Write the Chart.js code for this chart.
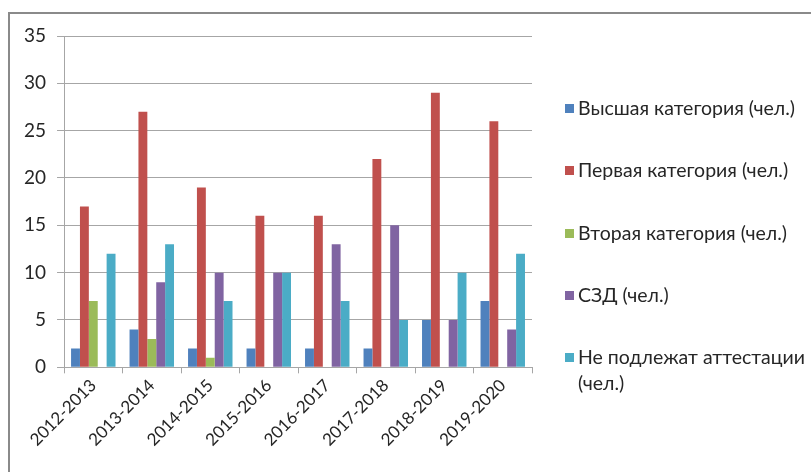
<!DOCTYPE html>
<html>
<head>
<meta charset="utf-8">
<script src="https://cdn.jsdelivr.net/npm/chart.js@4"></script>
<style>
  body { margin: 0; background: #fff; font-family: Lato, "Open Sans", sans-serif; }
  #wrap { position: relative; width: 811px; height: 472px; overflow: hidden; }
  #frame { position: absolute; left: 8px; top: 12px; width: 900px; height: 600px;
           border-left: 2px solid #8a8a8a; border-top: 2px solid #8a8a8a; }
  canvas { position: absolute; left: 0; top: 0; }
  #legend { position: absolute; left: 565px; top: 0; width: 245px; color: #262626; font-size: 19.5px; }
  .item { position: absolute; left: 0; width: 245px; display: flex; align-items: flex-start; line-height: 26px; }
  .box { width: 9px; height: 9px; margin-top: 9px; margin-right: 4px; flex: none; }
</style>
</head>
<body>
<div id="wrap">
  <div id="frame"></div>
  <canvas id="chart" width="811" height="472"></canvas>
  <div id="legend"></div>
</div>
<script>
const years = ["2012-2013", "2013-2014", "2014-2015", "2015-2016", "2016-2017", "2017-2018", "2018-2019", "2019-2020"];
const highest = [2, 4, 2, 2, 2, 2, 5, 7];
const first = [17, 27, 19, 16, 16, 22, 29, 26];
const second = [7, 3, 1, null, null, null, null, null];
const szd = [null, 9, 10, 10, 13, 15, 5, 4];
const notCertified = [12, 13, 7, 10, 7, 5, 10, 12];
const seriesNames = ["Высшая категория (чел.)", "Первая категория (чел.)", "Вторая категория (чел.)", "СЗД (чел.)", "Не подлежат аттестации (чел.)"];
const colors = ["#4f81bd", "#c0504d", "#9bbb59", "#8064a2", "#4bacc6"];
const yTicks = [0, 5, 10, 15, 20, 25, 30, 35];

const seriesData = [highest, first, second, szd, notCertified];

const chart = new Chart(document.getElementById("chart"), {
    type: "bar",
    data: {
        labels: years,
        datasets: seriesData.map((d, i) => ({
            label: seriesNames[i],
            data: d,
            backgroundColor: colors[i],
            categoryPercentage: 0.76,
            barPercentage: 1
        }))
    },
    options: {
        responsive: false,
        animation: false,
        layout: { padding: { left: 13, right: 279, top: 36, bottom: 20 } },
        plugins: { legend: { display: false }, tooltip: { enabled: false } },
        scales: {
            x: {
                grid: { drawOnChartArea: false, offset: true, tickLength: 6, color: "#a6a6a6" },
                border: { color: "#a6a6a6" },
                ticks: { minRotation: 45, maxRotation: 45, color: "#262626", font: { family: "Lato", size: 17 }, padding: 2 }
            },
            y: {
                min: 0,
                max: 35,
                afterBuildTicks: axis => { axis.ticks = yTicks.map(v => ({ value: v })); },
                grid: { color: "#a6a6a6", tickLength: 7 },
                border: { color: "#a6a6a6" },
                ticks: { color: "#262626", font: { family: "Lato", size: 19 }, padding: 11 }
            }
        }
    }
});

// Легенда справа
const legend = document.getElementById("legend");
const legendTops = [95, 157, 220, 282, 344];
seriesNames.forEach((name, i) => {
    const item = document.createElement("div");
    item.className = "item";
    item.style.top = legendTops[i] + "px";
    item.innerHTML = `<span class="box" style="background:${colors[i]}"></span><span>${name}</span>`;
    legend.appendChild(item);
});
</script>
</body>
</html>
